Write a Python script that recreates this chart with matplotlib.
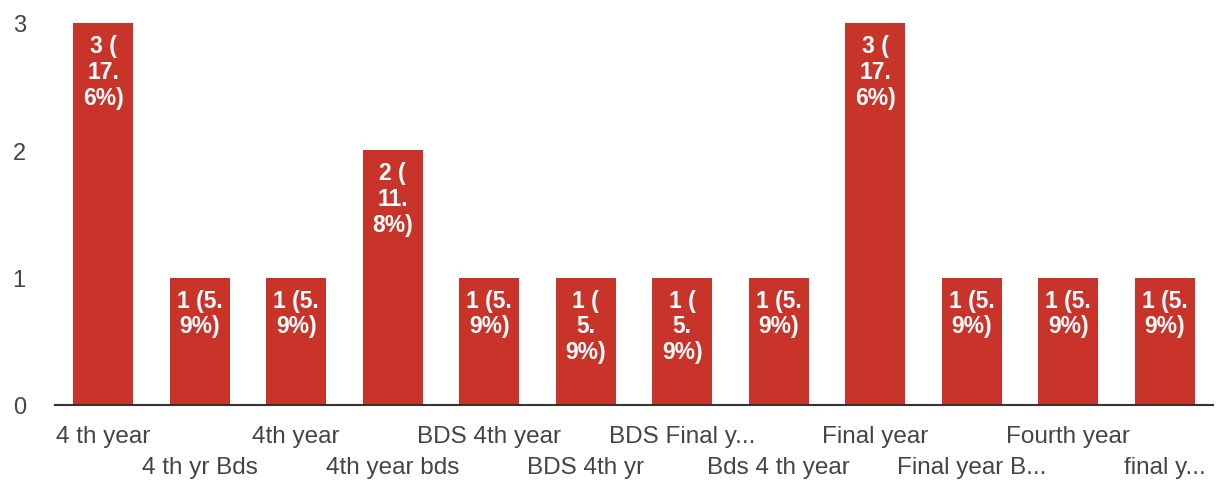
import matplotlib.pyplot as plt
import numpy as np

# Responses per category
categories = ['4 th year', '4 th yr Bds', '4th year', '4th year bds', 'BDS 4th year',
              'BDS 4th yr', 'BDS Final y...', 'Bds 4 th year', 'Final year',
              'Final year B...', 'Fourth year', 'final y...']
counts = [3, 1, 1, 2, 1, 1, 1, 1, 3, 1, 1, 1]
bar_labels = ['3 (\n17.\n6%)', '1 (5.\n9%)', '1 (5.\n9%)', '2 (\n11.\n8%)', '1 (5.\n9%)',
              '1 (\n5.\n9%)', '1 (\n5.\n9%)', '1 (5.\n9%)', '3 (\n17.\n6%)',
              '1 (5.\n9%)', '1 (5.\n9%)', '1 (5.\n9%)']

plt.rcParams['font.family'] = ['Liberation Sans', 'DejaVu Sans']

fig = plt.figure(figsize=(12.19, 4.89), dpi=100)
ax = fig.add_axes([55 / 1219, 1 - 406 / 489, 1158 / 1219, 382 / 489])

x = np.arange(len(categories))
bars = ax.bar(x, counts, width=0.62, color='#c9342a', zorder=2)

# Labels inside the bars
for rect, lab in zip(bars, bar_labels):
    ax.annotate(lab, (rect.get_x() + rect.get_width() / 2, rect.get_height()),
                xytext=(0, -8), textcoords='offset points', ha='center', va='top',
                color='white', fontsize=16.5, fontweight='bold', linespacing=1.15)

ax.set_xlim(-0.5, len(categories) - 0.5)
ax.set_ylim(0, 3)
ax.set_yticks([0, 1, 2, 3])
ax.tick_params(axis='y', length=0, pad=21, labelsize=17, labelcolor='#444444')
ax.set_xticks(x)
ax.set_xticklabels([])
ax.tick_params(axis='x', length=0)

# Staggered category labels
for i, name in enumerate(categories):
    yoff = -0.08 if i % 2 == 0 else -0.163
    ax.text(i, yoff, name, transform=ax.get_xaxis_transform(), ha='center', va='center',
            fontsize=17.5, color='#444444')

for s in ['top', 'right', 'left']:
    ax.spines[s].set_visible(False)
ax.spines['bottom'].set_color('#333333')
ax.spines['bottom'].set_linewidth(1.5)
ax.spines['bottom'].set_zorder(3)

fig.savefig('out.png', dpi=100)
